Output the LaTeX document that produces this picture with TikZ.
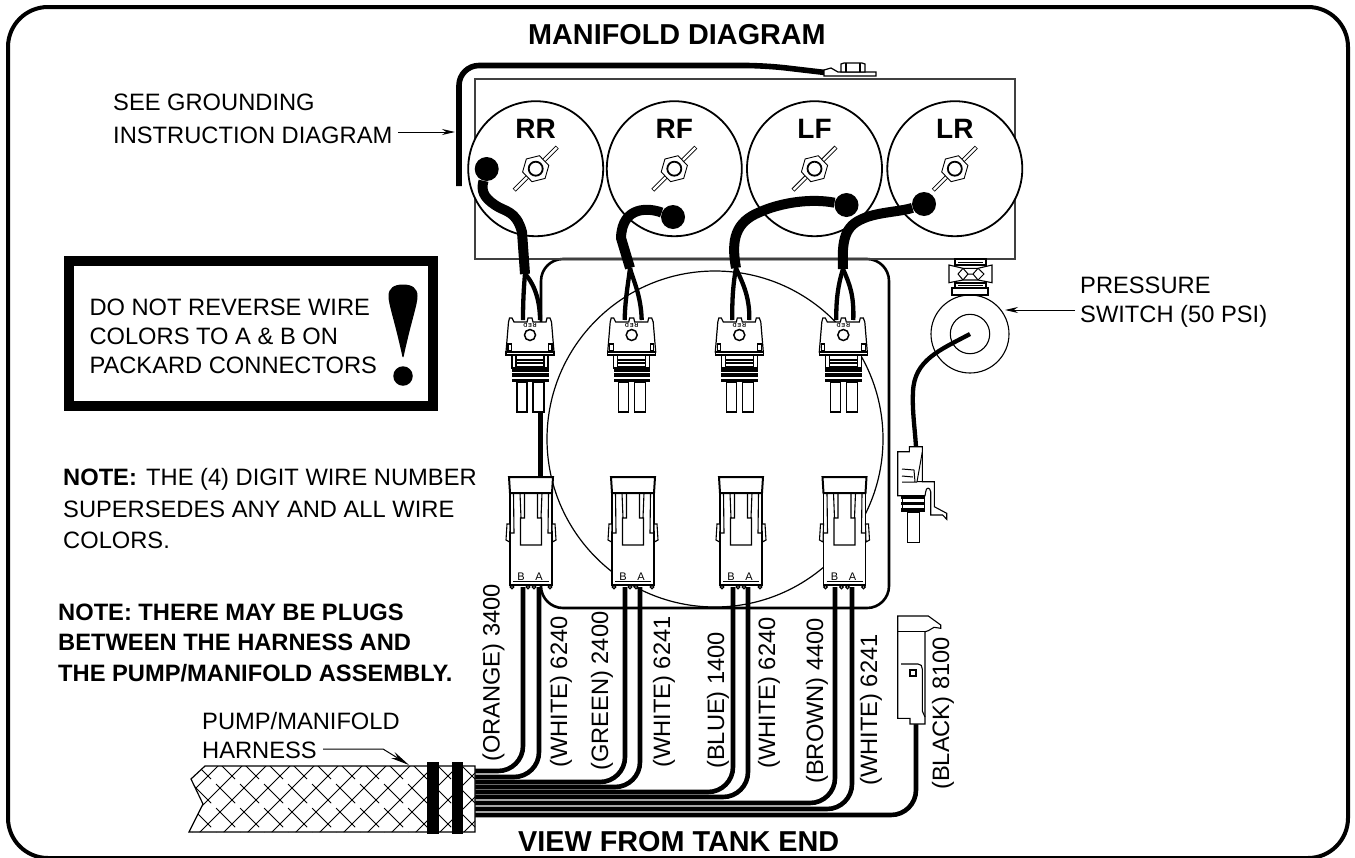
\documentclass[tikz,border=0pt]{standalone}
\usepackage{fontspec}
\setmainfont{Liberation Sans}
\usetikzlibrary{arrows.meta,shapes.geometric,calc}
\tikzset{
  x=1pt,y=-1pt,
  txt/.style={inner sep=0,anchor=base west,font=\fontsize{#1}{#1}\selectfont},
  txt/.default=23.7,
  btxt/.style={inner sep=0,anchor=base west,font=\fontsize{#1}{#1}\selectfont\bfseries},
  vtxt/.style={inner sep=0,anchor=base west,rotate=90,font=\fontsize{23.7}{23.7}\selectfont},
  port/.style={circle,draw,fill=white,line width=1.8,minimum size=135,inner sep=0},
  wire/.style={line width=4.3,line join=round},
  hwire/.style={line width=4.6,rounded corners=25},
  cable/.style={line width=10,line join=round},
  dot/.style={circle,fill=black,inner sep=0,minimum size=24},
  pointer/.style={line width=1,-{Stealth[length=13,width=6]}},
  valve/.pic={
    \draw[line width=4.2] (-21.5,21.5) -- (21.5,-21.5);
    \draw[white,line width=2.4] (-21,21) -- (21,-21);
    \node[regular polygon,regular polygon sides=6,draw,fill=white,line width=.9,minimum size=27,inner sep=0,rotate=14] at (0,0) {};
    \draw[line width=1.8,fill=white] (0,0) circle (7);
  },
  upconn/.pic={
    \draw[fill=white,line width=1.2]
      (-21.5,322) -- (-20.5,318) -- (-18,318) -- (-16,322) -- (-3,322) -- (-2,318) -- (2,318) -- (3,322)
      -- (16,322) -- (17,318) -- (20,318) -- (21.5,322) -- (24,352) -- (-24,352) -- cycle;
    \draw[fill=white,line width=1.2] (-24,352) rectangle (24,355);
    \draw[fill=white,line width=1.1] (-22,344) rectangle (-18.5,351);
    \draw[fill=white,line width=1.1] (18.5,344) rectangle (22,351);
    \draw[fill=white,line width=1.5] (0,335) circle (5.5);
    \node[inner sep=0,font=\fontsize{5.5}{5.5}\selectfont\bfseries,rotate=180] at (0,325) {R\,E\,D};
    \draw[fill=white,line width=1.2] (-18,355) rectangle (18,368);
    \draw[line width=1.1] (-14,355) -- (-14,368) (14,355) -- (14,368) (-14,360) -- (14,360) (-14,363) -- (14,363);
    \fill (-14,365.5) rectangle (14,368);
    \fill (-18,368) rectangle (18.5,382);
    \draw[white,line width=1.1] (-18,372.5) -- (18.5,372.5) (-18,378) -- (18.5,378);
    \draw[fill=white,line width=1.2] (-13,382) rectangle (-3,412);
    \draw[fill=white,line width=1.2] (3,382) rectangle (14,412);
    \coordinate (-L) at (-7,320);
    \coordinate (-R) at (10,320);
    \coordinate (-P) at (10.5,412);
  },
  lowconn/.pic={
    \draw[fill=white,line width=1.8] (-21,493) -- (-21,585) -- (21,585) -- (21,493) -- cycle;
    \draw[fill=white,line width=2] (-22,477) -- (22,477) -- (21,493) -- (-21,493) -- cycle;
    \draw[line width=1.1] (-17.5,493) -- (-17,533) -- (-21,533)
      (17.5,493) -- (17,533) -- (21,533)
      (-11,493) -- (-10,518) (11,493) -- (10,518)
      (-6.5,493) -- (-6.5,518) -- (-10.5,518) -- (-10.5,545) -- (10.5,545) -- (10.5,518) -- (6.5,518) -- (6.5,493);
    \draw[line width=1.1,fill=white] (-24,524) -- (-25,540) -- (-21.5,542) -- (-21,524) -- cycle;
    \draw[line width=1.1,fill=white] (24,524) -- (25,540) -- (21.5,542) -- (21,524) -- cycle;
    \draw[line width=1] (-18,581) -- (18,581);
    \foreach \fx in {-19,-3,3,19}{\draw[fill=white,line width=1.2] (\fx,587) circle (1.8);}
    \draw[line width=1.8] (-21,585) -- (21,585);
    \node[inner sep=0,font=\fontsize{11}{11}\selectfont] (-B) at (-10,577) {B};
    \node[inner sep=0,font=\fontsize{11}{11}\selectfont] (-A) at (8,577) {A};
    \coordinate (-H) at (9.5,477);
  },
}
\begin{document}
\begin{tikzpicture}
\useasboundingbox (0,0) rectangle (1355,857);
% outer frame
\begin{scope}
\clip (0,0) rectangle (1355,857);
\draw[line width=4,rounded corners=40] (8,7) rectangle (1348,858);
\end{scope}
\node[btxt=28.8] (title) at (528,44) {MANIFOLD DIAGRAM};
\node[btxt=28.8] (view) at (518,851) {VIEW FROM TANK END};

% inner rounded box and big circle (lie behind the connectors)
\draw[line width=2.6,rounded corners=22] (541,259) rectangle (889,608);
\draw[line width=1.2] (715,439) circle (168);

% manifold
\draw[line width=1.6,draw=black!75] (475,79) rectangle (1015,259);
\node[port] (RR) at (535.7,168.7) {};
\node[port] (RF) at (674.3,168.7) {};
\node[port] (LF) at (814.5,168.7) {};
\node[port] (LR) at (954.8,168.7) {};
\node[btxt=28,anchor=center] (RRl) at ($(RR)+(0,-40)$) {RR};
\node[btxt=28,anchor=center] (RFl) at ($(RF)+(0,-40)$) {RF};
\node[btxt=28,anchor=center] (LFl) at ($(LF)+(0,-40)$) {LF};
\node[btxt=28,anchor=center] (LRl) at ($(LR)+(0,-40)$) {LR};
\pic at (RR) {valve};
\pic at (RF) {valve};
\pic at (LF) {valve};
\pic at (LR) {valve};

% ground wire and ring terminal
\coordinate (gndend) at (459,186);
\coordinate (gndlug) at (825,72.5);
\draw[line width=5.6,rounded corners=20] (gndend) -- (459,65.5) -- (765,65.5) -- (gndlug);
\draw[fill=white,line width=1.2] (824,76) -- (876,76) -- (876,72) -- (838,72) -- (831,68) -- (824,70) -- cycle;
\draw[fill=white,line width=1.2] (841,72) -- (841,64) -- (844,63) -- (862,63) -- (865,64) -- (865,72) -- cycle;
\draw[line width=1.1] (846,63) -- (846,72) (860,63) -- (860,72);

% grounding label
\node[txt] (ground1) at (113,110) {SEE GROUNDING};
\node[txt] (ground2) at (113,143) {INSTRUCTION DIAGRAM};
\coordinate (gndtip) at (455,132);
\coordinate (gndtail) at (398,132);
\draw[pointer] (gndtail) -- (gndtip);

% warning box
\draw[line width=10] (69.3,261) rectangle (433,405.7);
\node[txt] (warn1) at (89.3,315) {DO NOT REVERSE WIRE};
\node[txt] (warn2) at (89.3,344) {COLORS TO A \& B ON};
\node[txt] (warn3) at (89.3,373) {PACKARD CONNECTORS};
\fill (388.5,296) .. controls (388.5,288) and (394,284.5) .. (403,284.5) .. controls (412,284.5) and (417.5,288) .. (417.5,296) .. controls (417.5,305) and (412,318) .. (403.5,357) -- (402.5,357) .. controls (394,318) and (388.5,305) .. (388.5,296) -- cycle;
\node[circle,fill=black,inner sep=0,minimum size=19.5] (warnDot) at (403,376) {};

% notes
\node[btxt=23.7] (n1a) at (63,485) {NOTE:};
\node[txt] (n1b) at (146,485) {THE (4) DIGIT WIRE NUMBER};
\node[txt] (n1c) at (63,517) {SUPERSEDES ANY AND ALL WIRE};
\node[txt] (n1d) at (63,548) {COLORS.};
\node[btxt=23.7] (n2a) at (58,620) {NOTE: THERE MAY BE PLUGS};
\node[btxt=23.7] (n2b) at (58,650) {BETWEEN THE HARNESS AND};
\node[btxt=23.7] (n2c) at (58,681) {THE PUMP/MANIFOLD ASSEMBLY.};
\node[txt] (harn1) at (202,729) {PUMP/MANIFOLD};
\node[txt] (harn2) at (202,758) {HARNESS};

% pressure switch label
\node[txt] (ps1) at (1080,293) {PRESSURE};
\node[txt] (ps2) at (1080,322) {SWITCH (50 PSI)};
\coordinate (pstail) at (1075,310);
\coordinate (pstip) at (1005,310);
\draw[pointer] (pstail) -- (pstip);

% connectors
\pic (c1) at (530,0) {upconn};
\pic (c2) at (631.7,0) {upconn};
\pic (c3) at (739.3,0) {upconn};
\pic (c4) at (843.3,0) {upconn};
\pic (d1) at (531,0) {lowconn};
\pic (d2) at (633,0) {lowconn};
\pic (d3) at (741,0) {lowconn};
\pic (d4) at (844.5,0) {lowconn};
\draw[wire] (c1-P) -- (d1-H);

% cables from the manifold
\node[dot] (dRR) at (486.7,169) {};
\node[dot] (dRF) at (673,217) {};
\node[dot] (dLF) at (846.5,205) {};
\node[dot] (dLR) at (924,204) {};
\coordinate (f1) at (525,274);
\coordinate (f2) at (630,268);
\coordinate (f3) at (736,268);
\coordinate (f4) at (843,269);
\draw[cable] (dRR) .. controls (481,190) and (483,197) .. (495,205) .. controls (505,212) and (516,210) .. (522,232) -- (f1);
\draw[cable] (dRF) .. controls (650,208) and (622,205) .. (621,238) -- (f2);
\draw[cable] (dLF) .. controls (810,198) and (780,203) .. (760,212) .. controls (735,222) and (731,240) .. (f3);
\draw[cable] (dLR) .. controls (900,212) and (875,212) .. (860,220) .. controls (843,228) and (842,245) .. (f4);
\draw[wire] (f1) .. controls (524,285) and (523,300) .. (c1-L);
\draw[wire] (f1) .. controls (531,280) and (540,295) .. (c1-R);
\draw[wire] (f2) .. controls (628,285) and (625,300) .. (c2-L);
\draw[wire] (f2) .. controls (633,280) and (641,295) .. (c2-R);
\draw[wire] (f3) .. controls (733,285) and (732,300) .. (c3-L);
\draw[wire] (f3) .. controls (741,280) and (750,295) .. (c3-R);
\draw[wire] (f4) .. controls (838,285) and (836,300) .. (c4-L);
\draw[wire] (f4) .. controls (850,285) and (854,295) .. (c4-R);

% wires into the harness
\coordinate (a1) at (523,587);\coordinate (h1) at (475,771);
\coordinate (a2) at (539,587);\coordinate (h2) at (475,777);
\coordinate (a3) at (625,587);\coordinate (h3) at (475,782);
\coordinate (a4) at (640,587);\coordinate (h4) at (475,787);
\coordinate (a5) at (733,587);\coordinate (h5) at (475,792);
\coordinate (a6) at (748,587);\coordinate (h6) at (475,797);
\coordinate (a7) at (835,587);\coordinate (h7) at (475,803);
\coordinate (a8) at (852,587);\coordinate (h8) at (475,809);
\coordinate (a9) at (916,724);\coordinate (h9) at (475,815);
\foreach \n in {1,...,9}{\draw[hwire] (h\n) -- (h\n -| a\n) -- (a\n);}

% harness
\draw[line width=1.2,fill=white] (205,766) -- (475,766) -- (475,832) -- (189,832) -- (203,804) -- (191,779) -- cycle;
\begin{scope}
\clip (205,766) -- (475,766) -- (475,832) -- (189,832) -- (203,804) -- (191,779) -- cycle;
\foreach \hx in {120,144,...,480}{
  \draw[line width=.9] (\hx,840) -- (\hx+80,760);
  \draw[line width=.9,dash pattern=on 27pt off 7pt] (\hx,760) -- (\hx+80,840);
}
\end{scope}
\fill (427,762) rectangle (439,834);
\fill (452,762) rectangle (463,834);
\coordinate (harntail) at (323,749);
\coordinate (harnbend) at (383,749);
\coordinate (harntip) at (409,765);
\draw[line width=1,-{Stealth[length=19,width=7]}] (harntail) -- (harnbend) -- (harntip);

% pressure switch
\node[circle,draw,fill=white,line width=1.1,minimum size=78,inner sep=0] (psw) at (970,334) {};
\node[circle,draw,line width=1.1,minimum size=39.4,inner sep=0] (pswin) at (970,334) {};
\draw[fill=white,line width=1.1] (955,259) rectangle (986,265);
\draw[line width=1] (958,262) -- (983,262);
\draw[fill=white,line width=1.1] (949,265) -- (963,268.3) -- (978,268.3) -- (992,265) -- (992,282.7) -- (978,280) -- (963,280) -- (949,282.7) -- cycle;
\draw[line width=1] (963,268.3) -- (958,274) -- (963,280) (978,268.3) -- (984,274) -- (978,280) (963,268.3) -- (968,274) -- (963,280) (978,268.3) -- (973,274) -- (978,280) (968,274) -- (973,274);
\draw[fill=white,line width=1.1] (955,283) rectangle (986,288);
\draw[line width=1] (958,285.5) -- (983,285.5);
\draw[fill=white,line width=1.1] (952,288) rectangle (988,295);
\coordinate (pswire) at (970,334);
\coordinate (plug) at (916,447);
\draw[wire] (pswire) .. controls (940,350) and (914,360) .. (913,392) .. controls (912,410) and (915,430) .. (plug);

% pressure switch plug
\draw[fill=white,line width=1.1] (897.7,451.7) -- (909.3,451.7) -- (909.3,446.7) -- (922.3,446.7) -- (922.3,481.7) -- (934.3,481.7) -- (934.3,506.7) -- (946.7,513.3) -- (946.7,519.3) -- (942.7,515) -- (930.7,515) -- (930.7,491.7) .. controls (930,487) and (926,487) .. (925.7,491.7) -- (925,495.7) -- (897.7,495.7) -- cycle;
\draw[line width=1] (922.3,452) -- (917,481.7) -- (922.3,481.7);
\draw[line width=1] (902,469) -- (914,470) -- (915,482) (902,476) -- (913,477) (902,482) -- (917,482);
\fill (901,495.7) rectangle (925,499);
\fill (901,502) rectangle (925,505);
\fill (901,508) rectangle (925,512);
\draw[line width=1] (902,499) -- (902,508) (924,499) -- (924,508);
\draw[fill=white,line width=1.1] (907.3,512) rectangle (919.3,542.7);

% black wire plug
\draw[fill=white,line width=1.1] (897.7,616) -- (928.3,616) -- (940.7,625) -- (940.7,628.3) -- (934,627.3) -- (928.3,630.7) -- (925,631.7) -- (925,724) -- (910,724) -- (910,718.3) -- (897.7,718.3) -- cycle;
\draw[line width=1.1] (897.7,631.7) -- (925,631.7);
\draw[line width=1.1] (901,664) -- (918,664) .. controls (921,664) and (922.3,666) .. (922.3,669) -- (922.3,711) -- (925,717);
\draw[line width=1.1] (910,670) rectangle (916,676);

% wire labels
\node[vtxt] (v1) at (499.5,762) {(ORANGE) 3400};
\node[vtxt] (v2) at (567,768) {(WHITE) 6240};
\node[vtxt] (v3) at (608,771) {(GREEN) 2400};
\node[vtxt] (v4) at (670,768) {(WHITE) 6241};
\node[vtxt] (v5) at (724,769) {(BLUE) 1400};
\node[vtxt] (v6) at (775,769) {(WHITE) 6240};
\node[vtxt] (v7) at (823,784) {(BROWN) 4400};
\node[vtxt] (v8) at (877,786) {(WHITE) 6241};
\node[vtxt] (v9) at (949,790) {(BLACK) 8100};
\end{tikzpicture}
\end{document}
